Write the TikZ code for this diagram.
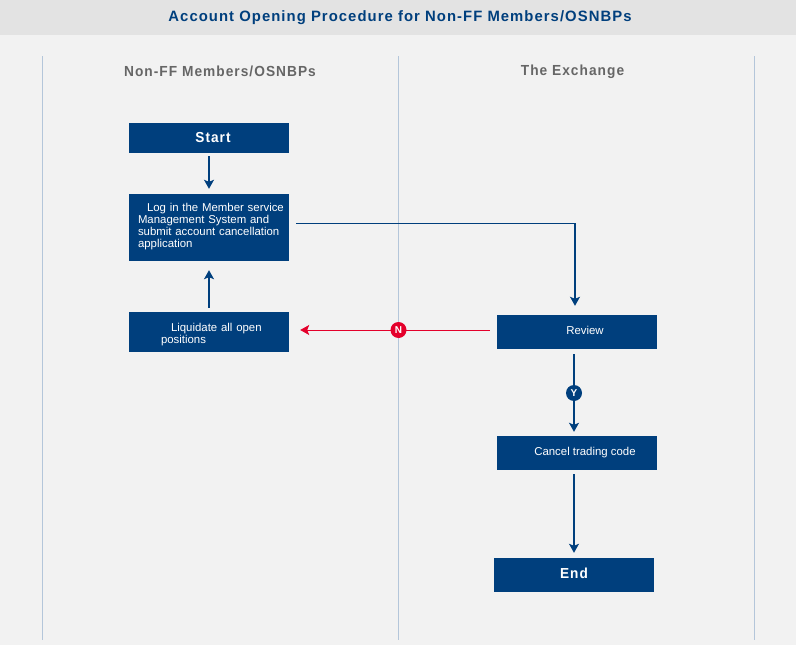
\documentclass[tikz,border=0pt]{standalone}
\usepackage{fontspec}
\setmainfont{Liberation Sans}
\usetikzlibrary{arrows.meta}
\definecolor{navy}{HTML}{003F7D}
\definecolor{pagebg}{HTML}{F2F2F2}
\definecolor{banner}{HTML}{E3E3E3}
\definecolor{lane}{HTML}{B4C6DA}
\definecolor{redc}{HTML}{E4002B}
\definecolor{greyt}{HTML}{666666}
\newfontfamily\headfont[LetterSpace=7,FakeStretch=0.94]{Liberation Sans}
\newfontfamily\titlefont[LetterSpace=7,FakeStretch=0.99]{Liberation Sans}
\newcommand\dn[1]{\rule[-#1]{0pt}{#1}}
\tikzset{
  x=1pt,y=-1pt,
  procbox/.style={fill=navy,draw=none,text=white,minimum width=160pt,font=\fontsize{11.4}{12}\selectfont,inner xsep=0pt,inner ysep=0pt,align=left},
  termbox/.style={procbox,font=\headfont\bfseries\fontsize{14.5}{15}\selectfont,align=center},
  flow/.style={draw=navy,line width=1.2pt,-{Stealth[length=9pt,width=10pt,inset=2pt]}},
  noflow/.style={draw=redc,line width=1pt,-{Stealth[length=9pt,width=10pt,inset=2pt]}},
  lanelabel/.style={font=\headfont\bfseries\fontsize{14.6}{15}\selectfont,text=greyt},
  laneline/.style={draw=lane,line width=0.8pt},
  badge/.style={circle,inner sep=0pt,minimum size=16pt,text=white,font=\bfseries\fontsize{10}{10}\selectfont}
}
\begin{document}
\begin{tikzpicture}
\useasboundingbox (0,0) rectangle (796,645);
\fill[pagebg] (0,0) rectangle (796,645);
\fill[banner] (0,0) rectangle (796,35);
\node[font=\titlefont\bfseries\fontsize{15}{15}\selectfont,text=navy] (title) at (400,17.5) {Account Opening Procedure for Non-FF Members/OSNBPs};
\coordinate (la) at (42.5,56); \coordinate (lab) at (42.5,640);
\coordinate (lb) at (398.5,56); \coordinate (lbb) at (398.5,640);
\coordinate (lc) at (754.5,56); \coordinate (lcb) at (754.5,640);
\draw[laneline] (la) -- (lab);
\draw[laneline] (lb) -- (lbb);
\draw[laneline] (lc) -- (lcb);
\node[lanelabel] (laneA) at (220,71.5) {Non-FF Members/OSNBPs};
\node[lanelabel] (laneB) at (572.5,71.5) {The Exchange};
\node[termbox,minimum height=30pt] (start) at (209,138) {\hspace*{8pt}Start\dn{1pt}};
\node[procbox,minimum height=67pt,text width=151pt,inner xsep=4.5pt] (login) at (209,227.5) {\hspace*{13.5pt}Log in the Member service\\\hspace*{4.5pt}Management System and\\\hspace*{4.5pt}submit account cancellation\\\hspace*{4.5pt}application\dn{5pt}};
\node[procbox,minimum height=40pt,text width=128pt,inner xsep=16pt] (liq) at (209,332) {\rule{0pt}{13pt}\hspace*{26pt}Liquidate all open\\\hspace*{16pt}positions};
\node[procbox,minimum height=34pt,align=center] (review) at (577,332) {\hspace*{16pt}Review\dn{3pt}};
\node[procbox,minimum height=34pt,align=center] (cancel) at (577,453) {\hspace*{16pt}Cancel trading code\dn{2pt}};
\node[termbox,minimum height=34pt] (end) at (574,575) {End\dn{3pt}};
\draw[flow,shorten <=3pt,shorten >=5pt] (start) -- (start |- login.north);
\draw[flow,shorten <=4pt,shorten >=9pt] (liq) -- (liq |- login.south);
\draw[flow,shorten <=7pt,shorten >=9pt] ([yshift=4pt]login.east) -| ([xshift=-2pt]review.north);
\draw[noflow,shorten <=7pt,shorten >=11pt] ([yshift=2pt]review.west) -- ([yshift=2pt]liq.east);
\draw[flow,shorten <=5pt,shorten >=4pt] ([xshift=-3pt]review.south) -- ([xshift=-3pt]cancel.north);
\draw[flow,shorten <=4pt,shorten >=5pt] ([xshift=-3pt]cancel.south) -- (end);
\node[badge,fill=redc] (n) at (398.5,330) {N};
\node[badge,fill=navy] (y) at (574,393) {Y};
\end{tikzpicture}
\end{document}
